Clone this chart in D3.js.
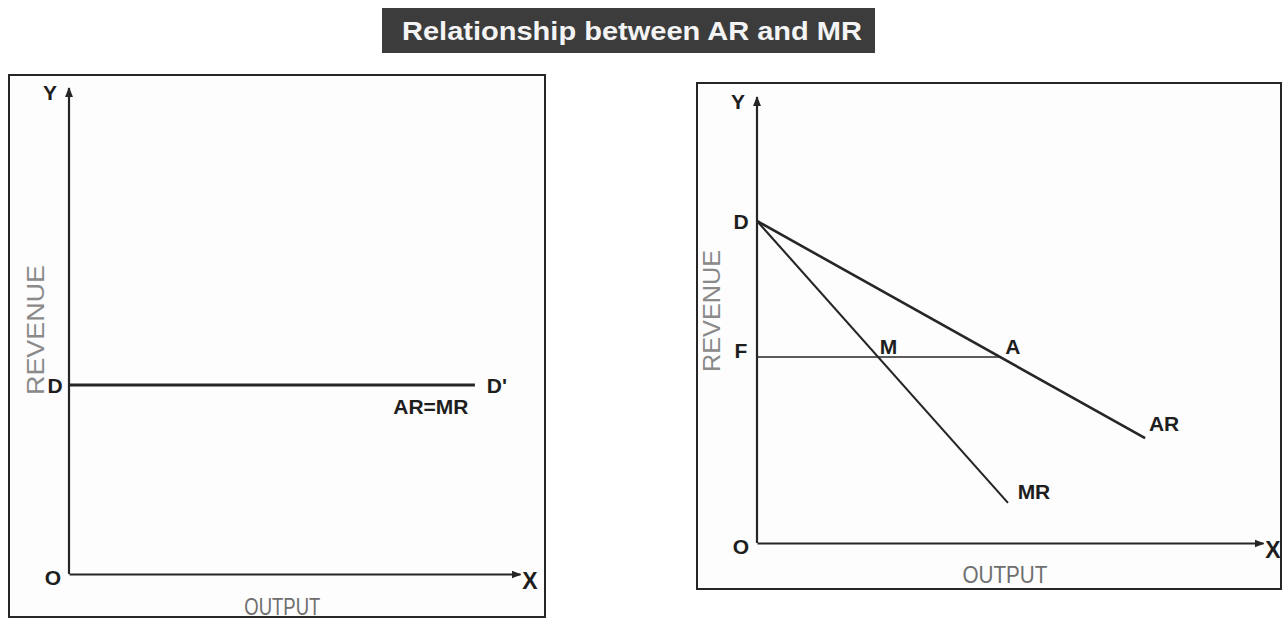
<!DOCTYPE html>
<html><head><meta charset="utf-8">
<script src="https://cdn.jsdelivr.net/npm/d3@7/dist/d3.min.js"></script>
<style>
html,body{margin:0;padding:0;background:#fff;}
svg{display:block;font-family:"Liberation Sans",Arial,sans-serif;}
</style></head>
<body>
<svg id="chart" width="1283" height="619"></svg>
<script>
// ---------- data ----------
const title = "Relationship between AR and MR";
// Left panel: perfect competition, AR = MR horizontal at level D
const leftLevel = 38.9;            // revenue level of D line
const leftLineEnd = 90;            // output where D' line ends
const leftLine = [{q: 0, p: leftLevel}, {q: leftLineEnd, p: leftLevel}];
// Right panel: imperfect competition
const arPoints = [{q: 0, p: 72.2}, {q: 76.7, p: 23.5}];
const mrPoints = [{q: 0, p: 72.2}, {q: 49.6, p: 9.0}];
const fLevel = 41.7;               // revenue level F
const aOutput = 48.0;              // output where F meets AR (point A)
const mOutput = 24.0;              // output where F meets MR (point M)
const axisLabels = {x: "OUTPUT", y: "REVENUE"};

// ---------- drawing ----------
const svg = d3.select("#chart");
const dark = "#262626";

const defs = svg.append("defs");
defs.append("marker").attr("id", "arr").attr("viewBox", "0 0 10 10")
  .attr("refX", 9).attr("refY", 5).attr("markerWidth", 4.5).attr("markerHeight", 4.5)
  .attr("orient", "auto").attr("markerUnits", "strokeWidth")
  .append("path").attr("d", "M0,1 L10,5 L0,9 Z").attr("fill", dark);

// title
svg.append("rect").attr("x", 382).attr("y", 8).attr("width", 493).attr("height", 45).attr("fill", "#3c3c3c");
svg.append("text").attr("x", 402).attr("y", 40).attr("fill", "#f4f4f4")
  .attr("font-size", 26).attr("font-weight", "bold")
  .attr("textLength", 460).attr("lengthAdjust", "spacingAndGlyphs").text(title);

function panel(cfg) {
  const g = svg.append("g");
  g.append("rect").attr("x", cfg.box[0]).attr("y", cfg.box[1])
    .attr("width", cfg.box[2] - cfg.box[0]).attr("height", cfg.box[3] - cfg.box[1])
    .attr("fill", "#fdfdfd").attr("stroke", dark).attr("stroke-width", 2);
  const x = d3.scaleLinear().domain([0, 100]).range([cfg.ox, cfg.xEnd]);
  const y = d3.scaleLinear().domain([0, 100]).range([cfg.oy, cfg.yEnd]);
  // axes drawn with d3 axis (no ticks) + arrowheads
  const xAxis = g.append("g").attr("transform", `translate(0,${cfg.oy})`)
    .call(d3.axisBottom(x).tickValues([]).tickSizeOuter(0));
  xAxis.select(".domain").attr("stroke", dark).attr("stroke-width", 2.2).attr("marker-end", "url(#arr)");
  const yAxis = g.append("g").attr("transform", `translate(${cfg.ox},0)`)
    .call(d3.axisLeft(y).tickValues([]).tickSizeOuter(0));
  yAxis.select(".domain").attr("stroke", dark).attr("stroke-width", 2.2)
    .attr("d", `M0,${cfg.oy}V${cfg.yEnd}`).attr("marker-end", "url(#arr)");
  // axis letters
  const lab = (t, px, py, opts = {}) => g.append("text").attr("x", px).attr("y", py)
    .attr("fill", opts.fill || "#1e1e1e").attr("font-size", opts.size || 21)
    .attr("font-weight", opts.weight || "bold").attr("text-anchor", opts.anchor || "middle")
    .attr("dominant-baseline", "central").text(t);
  lab("Y", cfg.ox - 19, cfg.yEnd + 4);
  lab("O", cfg.ox - 16, cfg.oy + 3);
  lab("X", x(100) + 10, cfg.oy + 7, {size: 23});
  // axis titles
  g.append("text").attr("x", x(cfg.outX)).attr("y", cfg.outY).attr("fill", "#6e6e6e")
    .attr("font-size", 24).attr("text-anchor", "middle").attr("dominant-baseline", "central")
    .attr("textLength", cfg.outW).attr("lengthAdjust", "spacingAndGlyphs").text(axisLabels.x);
  g.append("text").attr("transform", `translate(${cfg.revX},${cfg.revY}) rotate(-90)`)
    .attr("fill", "#8a8a8a").attr("font-size", 24).attr("text-anchor", "middle")
    .attr("dominant-baseline", "central")
    .attr("textLength", cfg.revW).attr("lengthAdjust", "spacingAndGlyphs").text(axisLabels.y);
  return {g, x, y, lab};
}

// Left panel
const L = panel({box: [9, 75, 545, 617], ox: 69, oy: 574, xEnd: 520, yEnd: 88,
  outX: 47.3, outY: 606, outW: 76, revX: 35, revY: 330, revW: 130});
const line = d3.line().x(d => L.x(d.q)).y(d => L.y(d.p));
L.g.append("path").attr("d", line(leftLine)).attr("fill", "none").attr("stroke", dark).attr("stroke-width", 3);
L.lab("D", L.x(0) - 14, L.y(leftLevel) + 1);
L.lab("D'", L.x(leftLineEnd) + 22, L.y(leftLevel) + 1);
L.lab("AR=MR", L.x(leftLineEnd) - 44, L.y(leftLevel) + 22);

// Right panel
const R = panel({box: [697, 83, 1281, 589], ox: 757, oy: 543, xEnd: 1263, yEnd: 97,
  outX: 49, outY: 574, outW: 85, revX: 711, revY: 311, revW: 122});
const rl = d3.line().x(d => R.x(d.q)).y(d => R.y(d.p));
R.g.append("path").attr("d", rl([{q: 0, p: fLevel}, {q: aOutput, p: fLevel}]))
  .attr("fill", "none").attr("stroke", dark).attr("stroke-width", 1.6);
R.g.append("path").attr("d", rl(arPoints)).attr("fill", "none").attr("stroke", dark).attr("stroke-width", 2.6);
R.g.append("path").attr("d", rl(mrPoints)).attr("fill", "none").attr("stroke", dark).attr("stroke-width", 2.1);
R.lab("D", R.x(0) - 16, R.y(arPoints[0].p) + 1);
R.lab("F", R.x(0) - 16, R.y(fLevel) - 7);
R.lab("M", R.x(mOutput) + 10, R.y(fLevel) - 11);
R.lab("A", R.x(aOutput) + 13, R.y(fLevel) - 11);
R.lab("AR", R.x(arPoints[1].q) + 19, R.y(arPoints[1].p) - 15);
R.lab("MR", R.x(mrPoints[1].q) + 26, R.y(mrPoints[1].p) - 11);
</script>
</body></html>
